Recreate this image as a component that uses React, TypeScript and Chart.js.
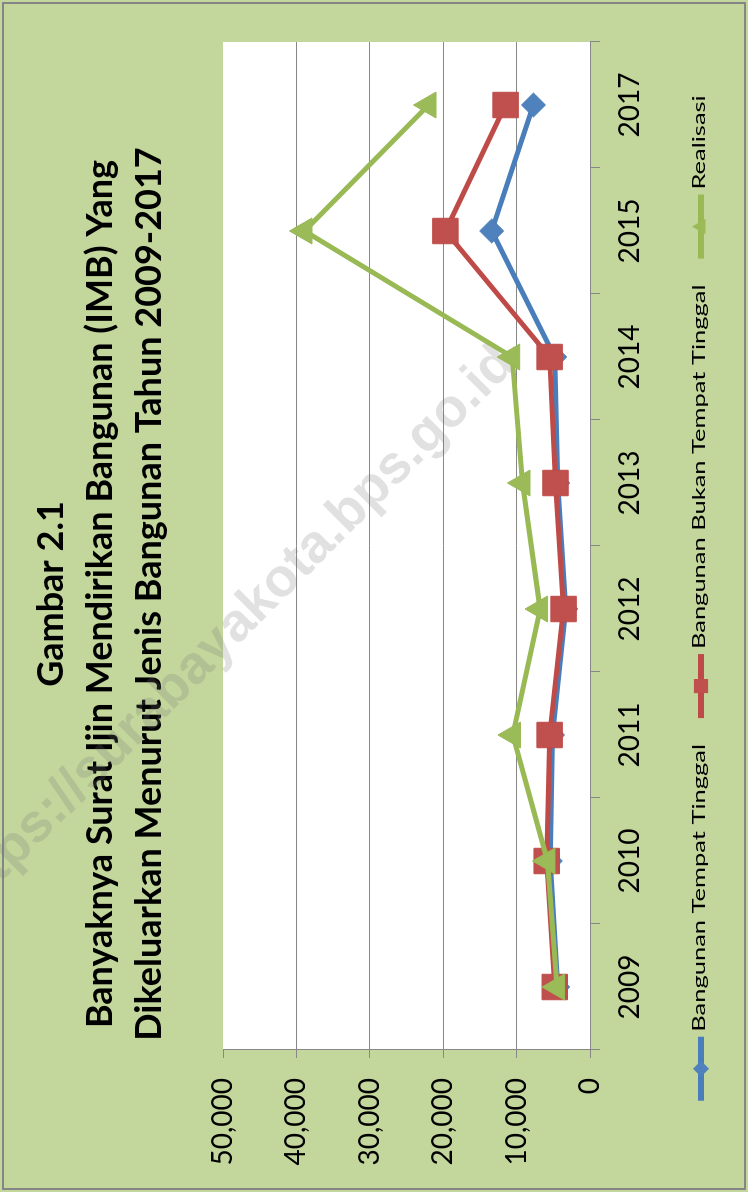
import React, { useEffect, useRef } from 'react';
import { Chart, registerables } from 'chart.js';

Chart.register(...registerables);

// ---------- data ----------
const categories = ['2009', '2010', '2011', '2012', '2013', '2014', '2015', '2017'];
const tempatTinggal = [4400, 5400, 5100, 3300, 4400, 4800, 13400, 7700];
const bukanTempatTinggal = [4800, 5900, 5500, 3600, 4700, 5500, 19700, 11500];
const realisasi = [4500, 5800, 10500, 6800, 9200, 10600, 38900, 22000];
const seriesLabels = ['Bangunan Tempat Tinggal', 'Bangunan Bukan Tempat Tinggal', 'Realisasi'];
const titleLines = [
  'Gambar 2.1',
  'Banyaknya Surat Ijin Mendirikan Bangunan (IMB) Yang',
  'Dikeluarkan Menurut Jenis Bangunan Tahun 2009-2017',
];
const valueMin = 0;
const valueMax = 50000;
const valueStep = 10000;
const watermarkText = 'https://surabayakota.bps.go.id';

// ---------- styles ----------
const GRID = '#878787';
const BG = '#C3D69B';
const FONT = 'Lato';

function drawMarker(ctx: CanvasRenderingContext2D, style: string, x: number, y: number, r: number, fill: string) {
  ctx.beginPath();
  if (style === 'rect') {
    const s = r * Math.SQRT1_2;
    ctx.rect(x - s, y - s, 2 * s, 2 * s);
  } else if (style === 'rectRot') {
    ctx.moveTo(x - r, y);
    ctx.lineTo(x, y - r);
    ctx.lineTo(x + r, y);
    ctx.lineTo(x, y + r);
    ctx.closePath();
  } else {
    ctx.moveTo(x, y - r);
    ctx.lineTo(x + r * 0.866, y + r / 2);
    ctx.lineTo(x - r * 0.866, y + r / 2);
    ctx.closePath();
  }
  ctx.fillStyle = fill;
  ctx.fill();
}

const backgroundPlugin = {
  id: 'bgPlugin',
  afterLayout(chart: any) {
    // let the value-axis labels use the space left of the axis box (no clipping)
    if (chart.scales.y) chart.scales.y.left = 0;
  },
  beforeDraw(chart: any) {
    const { ctx, width, height, chartArea } = chart;
    ctx.save();
    ctx.fillStyle = BG;
    ctx.fillRect(0, 0, width, height);
    ctx.strokeStyle = '#858585';
    ctx.lineWidth = 2;
    ctx.strokeRect(3, 3, width - 6, height - 6);
    ctx.fillStyle = '#FFFFFF';
    ctx.fillRect(chartArea.left, chartArea.top, chartArea.right - chartArea.left, chartArea.bottom - chartArea.top);
    ctx.restore();
  },
};

const watermarkPlugin = {
  id: 'watermarkPlugin',
  beforeDatasetsDraw(chart: any) {
    const { ctx } = chart;
    ctx.save();
    ctx.translate(560, 230);
    ctx.rotate(Math.PI / 4);
    ctx.font = 'bold 54px "Liberation Sans"';
    ctx.fillStyle = 'rgba(120,120,120,0.22)';
    ctx.textAlign = 'center';
    ctx.textBaseline = 'middle';
    ctx.fillText(watermarkText, 0, 0);
    ctx.restore();
  },
};

const legendPlugin = {
  id: 'lineLegend',
  afterDraw(chart: any) {
    const { ctx } = chart;
    const sx = 1.5;
    const lineLen = 64;
    const gap = 5;
    const spacing = 26;
    const cy = 701;
    ctx.save();
    ctx.font = `17px ${FONT}`;
    const items = chart.data.datasets.map((ds: any) => ({ ds, w: ctx.measureText(ds.label).width * sx }));
    const total = items.reduce((s: number, it: any) => s + lineLen + gap + it.w, 0) + spacing * (items.length - 1);
    let x = 594 - total / 2;
    items.forEach(({ ds, w }: any) => {
      ctx.strokeStyle = ds.borderColor;
      ctx.lineWidth = 6;
      ctx.beginPath();
      ctx.moveTo(x, cy);
      ctx.lineTo(x + lineLen, cy);
      ctx.stroke();
      const r = ds.pointStyle === 'rect' ? 10 : ds.pointStyle === 'rectRot' ? 8 : 9;
      drawMarker(ctx, ds.pointStyle, x + lineLen / 2, cy, r, ds.pointBackgroundColor);
      ctx.save();
      ctx.translate(x + lineLen + gap, cy - 1);
      ctx.scale(sx, 1);
      ctx.fillStyle = '#000';
      ctx.textBaseline = 'middle';
      ctx.textAlign = 'left';
      ctx.fillText(ds.label, 0, 0);
      ctx.restore();
      x += lineLen + gap + w + spacing;
    });
    ctx.restore();
  },
};

export default function App() {
  const canvasRef = useRef<HTMLCanvasElement>(null);

  useEffect(() => {
    let chart: Chart | null = null;
    let cancelled = false;
    const make = () => {
      if (cancelled || !canvasRef.current) return;
      chart = new Chart(canvasRef.current, {
        type: 'line',
        data: {
          labels: categories,
          datasets: [
            {
              label: seriesLabels[0],
              data: tempatTinggal,
              borderColor: '#4A7EBB',
              backgroundColor: '#4F81BD',
              pointBackgroundColor: '#4F81BD',
              pointBorderColor: '#4A7EBB',
              borderWidth: 5,
              pointStyle: 'rectRot',
              pointRadius: 12,
              pointBorderWidth: 1,
              tension: 0,
              order: 3,
            },
            {
              label: seriesLabels[1],
              data: bukanTempatTinggal,
              borderColor: '#BE4B48',
              backgroundColor: '#C0504D',
              pointBackgroundColor: '#C0504D',
              pointBorderColor: '#BE4B48',
              borderWidth: 5,
              pointStyle: 'rect',
              pointRadius: 18,
              pointBorderWidth: 1,
              tension: 0,
              order: 2,
            },
            {
              label: seriesLabels[2],
              data: realisasi,
              borderColor: '#98B954',
              backgroundColor: '#9BBB59',
              pointBackgroundColor: '#9BBB59',
              pointBorderColor: '#98B954',
              borderWidth: 5,
              pointStyle: 'triangle',
              pointRadius: 15,
              pointBorderWidth: 1,
              tension: 0,
              order: 1,
            },
          ] as any,
        },
        options: {
          responsive: false,
          animation: false,
          devicePixelRatio: 1,
          layout: { padding: { left: 46, right: 42, top: 0, bottom: 0 } },
          plugins: {
            legend: { display: false },
            tooltip: { enabled: false },
            title: {
              display: true,
              text: titleLines,
              color: '#000',
              font: { family: FONT, size: 36, weight: 'bold', lineHeight: '49px' } as any,
              padding: { top: 27, bottom: 49 },
            },
          },
          scales: {
            x: {
              type: 'category',
              offset: true,
              grid: { offset: true, drawOnChartArea: false, drawTicks: true, tickLength: 10, color: GRID },
              border: { color: GRID, width: 1 },
              ticks: { color: '#000', font: { family: FONT, size: 28 }, padding: 13, maxRotation: 0, autoSkip: false },
              afterFit: (s: any) => {
                s.height = 158;
              },
            },
            y: {
              min: valueMin,
              max: valueMax,
              ticks: {
                stepSize: valueStep,
                color: '#000',
                font: { family: FONT, size: 28 },
                padding: 20,
                callback: (v: any) => Number(v).toLocaleString('en-US'),
              },
              grid: {
                color: (c: any) => (c.tick && c.tick.value === valueMax ? 'rgba(0,0,0,0)' : GRID),
                tickColor: GRID,
                tickLength: 8,
              },
              border: { color: GRID, width: 1 },
              afterFit: (s: any) => {
                s.width = 96;
              },
            },
          },
        } as any,
        plugins: [backgroundPlugin, watermarkPlugin, legendPlugin],
      });
    };
    const loads = [
      document.fonts.load(`bold 36px ${FONT}`),
      document.fonts.load(`28px ${FONT}`),
      document.fonts.load(`17px ${FONT}`),
      document.fonts.load('bold 54px "Liberation Sans"'),
    ];
    Promise.all(loads).then(make, make);
    return () => {
      cancelled = true;
      if (chart) chart.destroy();
    };
  }, []);

  return (
    <div style={{ position: 'absolute', left: 0, top: 0, width: 748, height: 1192, overflow: 'hidden' }}>
      <div
        style={{
          position: 'absolute',
          left: 0,
          top: 0,
          width: 1192,
          height: 748,
          transformOrigin: '0 0',
          transform: 'translateY(1192px) rotate(-90deg)',
        }}
      >
        <canvas ref={canvasRef} width={1192} height={748} style={{ display: 'block', width: 1192, height: 748 }} />
      </div>
    </div>
  );
}
